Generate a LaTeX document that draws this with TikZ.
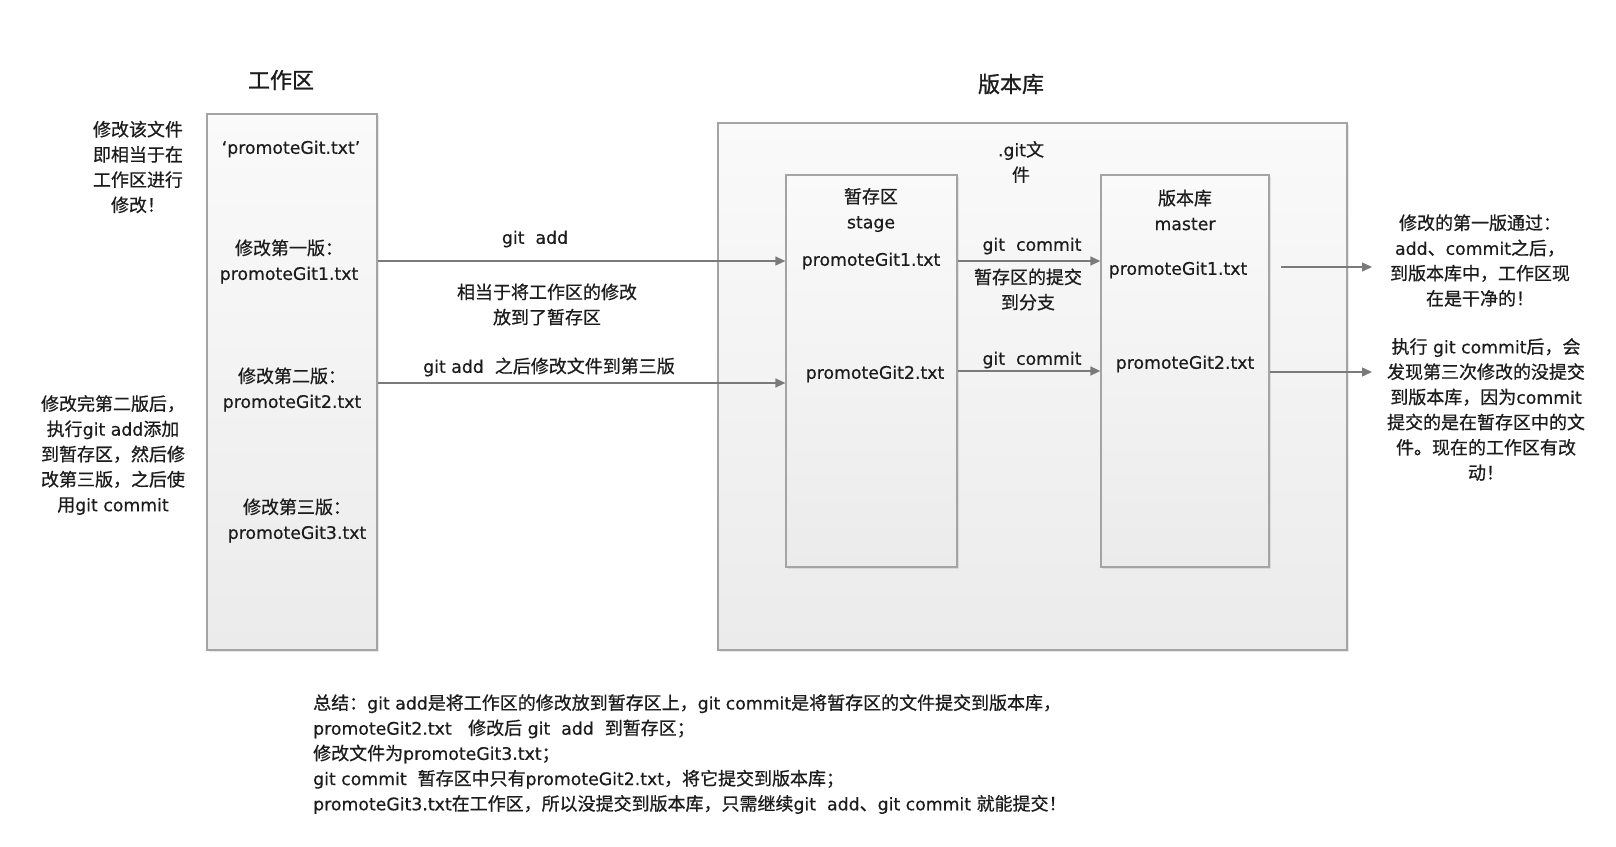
\documentclass[tikz,border=0pt]{standalone}
\usepackage{fontspec}
\setmainfont{DejaVu Sans}[FakeBold=0.45]
\newfontfamily\cjkfont{Noto Sans CJK SC}[Scale=1.04,FakeBold=0.65]
\newfontfamily\cjktitle{Noto Sans CJK SC}[FakeBold=1.1]
\newcommand\ttl{\XeTeXinterchartokenstate=0\relax\cjktitle}
\usetikzlibrary{arrows.meta,shadows}
\XeTeXinterchartokenstate=1
\chardef\cjkcls=7
\newcount\cjkc
\def\cjkrange#1#2{\cjkc=#1\relax\loop\XeTeXcharclass\cjkc=\cjkcls\relax\ifnum\cjkc<#2\relax\advance\cjkc by 1\relax\repeat}
\cjkrange{"3000}{"303F}
\cjkrange{"4E00}{"9FFF}
\cjkrange{"FF00}{"FFEF}
\XeTeXinterchartoks 0 \cjkcls = {\begingroup\cjkfont}
\XeTeXinterchartoks 4095 \cjkcls = {\begingroup\cjkfont}
\XeTeXinterchartoks \cjkcls 0 = {\endgroup}
\XeTeXinterchartoks \cjkcls 4095 = {\endgroup}
\definecolor{boxgray}{HTML}{A4A4A4}
\definecolor{arrgray}{HTML}{7A7A7A}
\definecolor{filltop}{HTML}{FAFAFA}
\definecolor{fillbot}{HTML}{EBEBEB}
\definecolor{txt}{HTML}{1C1C1C}
\tikzset{
  base/.style={font=\fontsize{17.3}{25.2}\selectfont, inner sep=0pt, align=center, text=txt},
  title/.style={base, font=\fontsize{22}{26}\selectfont},
  box/.style={draw=boxgray, line width=1.3pt, top color=filltop, bottom color=fillbot,
    drop shadow={opacity=0.18, shadow xshift=1.5pt, shadow yshift=-1.5pt}},
  arr/.style={draw=arrgray, line width=1.3pt, -{Triangle[length=10pt,width=9pt]}},
}
\begin{document}
\begin{tikzpicture}[x=1pt,y=-1pt]
\useasboundingbox[fill=white] (0,0) rectangle (1616,846);
% boxes
\node[box, minimum width=170pt, minimum height=536pt] (work) at (292,382) {};
\node[box, minimum width=629pt, minimum height=527pt] (git) at (1032.5,386.5) {};
\node[box, minimum width=171pt, minimum height=392pt] (stage) at (871.5,371) {};
\node[box, minimum width=168pt, minimum height=392pt] (master) at (1185,371) {};
% titles
\node[title] (t1) at (281,80) {\ttl 工作区};
\node[title] (t2) at (1011,84) {\ttl 版本库};
% left notes
\node[base] (ln1) at (138,167) {修改该文件\\即相当于在\\工作区进行\\修改！};
\node[base] (ln2) at (113,455) {修改完第二版后，\\执行git add添加\\到暂存区，然后修\\改第三版，之后使\\用git commit};
% work area texts
\node[base] (w0) at (291,149) {‘promoteGit.txt’};
\node[base] (w1) at (289,261.5) {修改第一版：\\promoteGit1.txt};
\node[base] (w2) at (292,389.5) {修改第二版：\\promoteGit2.txt};
\node[base] (w3) at (297,520.5) {修改第三版：\\promoteGit3.txt};
% git box texts
\node[base] (gitf) at (1021,162) {.git文\\件};
\node[base] (sh) at (871,210) {暂存区\\stage};
\node[base] (mh) at (1185,210) {版本库\\master};
\node[base] (s1) at (871,261) {promoteGit1.txt};
\node[base] (s2) at (875,374) {promoteGit2.txt};
\node[base] (m1) at (1178,270) {promoteGit1.txt};
\node[base] (m2) at (1185,364) {promoteGit2.txt};
% connector labels
\node[base] (la1) at (535,239) {git\ \ add};
\node[base] (la1b) at (547,304.5) {相当于将工作区的修改\\放到了暂存区};
\node[base] (la2) at (549,367) {git add\ \ 之后修改文件到第三版};
\node[base] (lc1) at (1032,246) {git\ \ commit};
\node[base] (lc1b) at (1028,289.5) {暂存区的提交\\到分支};
\node[base] (lc2) at (1032,360) {git\ \ commit};
% right notes
\node[base] (r1) at (1480,260.5) {修改的第一版通过：\\add、commit之后，\\到版本库中，工作区现\\在是干净的！};
\node[base] (r2) at (1486,409.5) {执行 git commit后，会\\发现第三次修改的没提交\\到版本库，因为commit\\提交的是在暂存区中的文\\件。现在的工作区有改\\动！};
% summary
\node[base, align=left, anchor=north west] (sum) at (313,694) {总结：git add是将工作区的修改放到暂存区上，git commit是将暂存区的文件提交到版本库，\\promoteGit2.txt\ \ \ 修改后 git\ \ add\ \ 到暂存区；\\修改文件为promoteGit3.txt；\\git commit\ \ 暂存区中只有promoteGit2.txt，将它提交到版本库；\\promoteGit3.txt在工作区，所以没提交到版本库，只需继续git\ \ add、git commit 就能提交！};
% connectors
\coordinate (y2) at (0,383);
\coordinate (y4) at (0,371);
\coordinate (a5s) at (1281,267);
\coordinate (a5e) at (1372,267);
\coordinate (a6e) at (1372,372);
\draw[arr] (work.east |- s1) -- (stage.west |- s1);
\draw[arr] (work.east |- y2) -- (stage.west |- y2);
\draw[arr] (stage.east |- s1) -- (master.west |- s1);
\draw[arr] (stage.east |- y4) -- (master.west |- y4);
\draw[arr] (a5s) -- (a5e);
\draw[arr] (master.east |- a6e) -- (a6e);
\end{tikzpicture}
\end{document}
